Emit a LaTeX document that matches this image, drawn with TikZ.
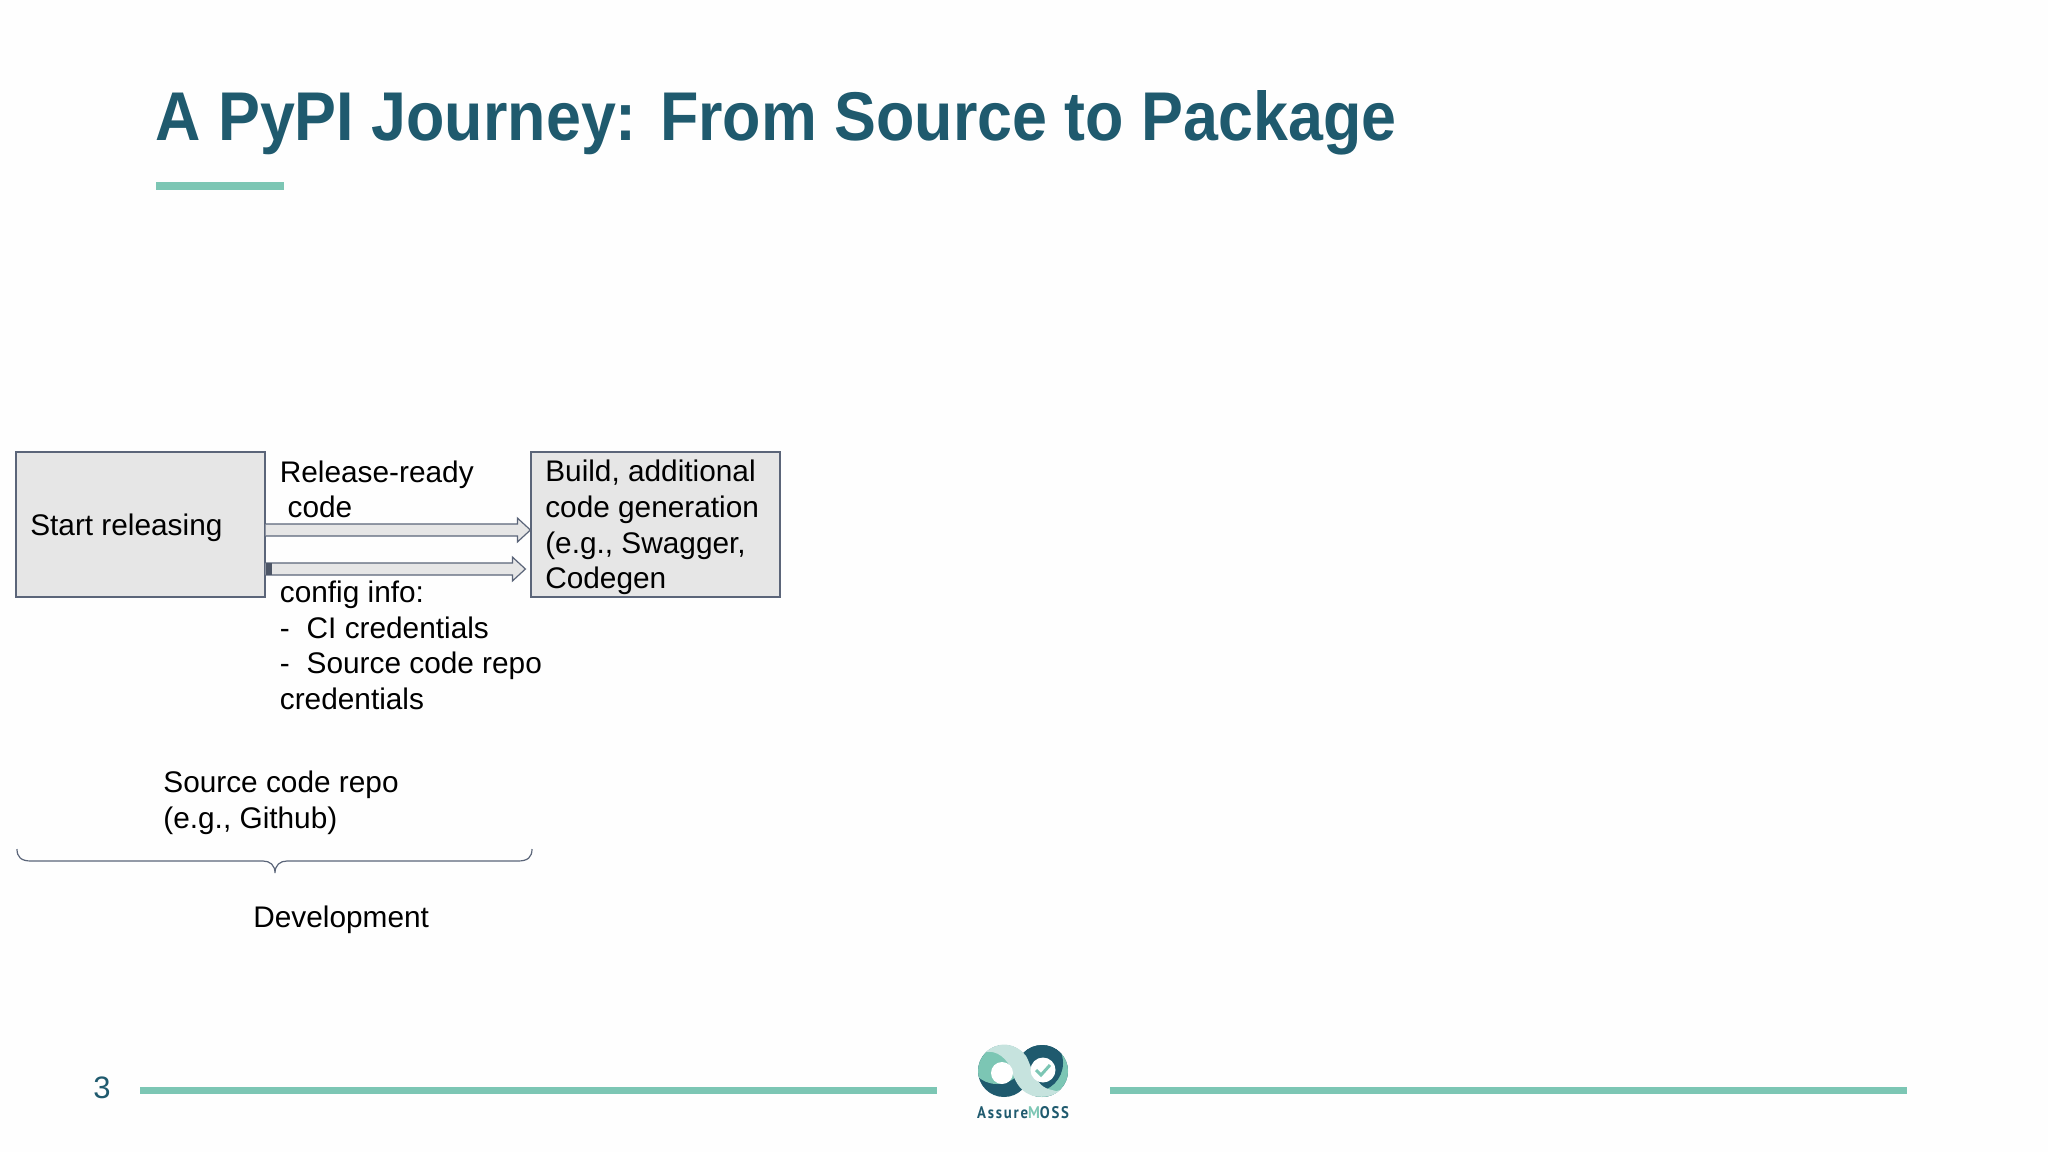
\documentclass[tikz,border=0pt]{standalone}
\usepackage{fontspec}
\usepackage{graphicx}
\setmainfont{Liberation Sans}
\newfontfamily\titlefont{Liberation Sans}
\newfontfamily\logofont[LetterSpace=12]{PT Sans}
\usetikzlibrary{calc}
\definecolor{inkdark}{HTML}{1F5A6E}
\definecolor{mint}{HTML}{7CC6B4}
\definecolor{palemint}{HTML}{C6E3DE}
\definecolor{edge}{HTML}{5B6579}
\definecolor{boxfill}{HTML}{E6E6E6}
\tikzset{
  x=0.5pt,y=-0.5pt,
  label text/.style={inner sep=0pt,anchor=west,align=left,text=black,font=\fontsize{14.9}{17.8}\selectfont},
  box/.style={draw=edge,fill=boxfill,line width=0.6pt,minimum height=72.5pt,minimum width=124.5pt,inner sep=0pt},
  hollow/.style={draw=edge,fill=boxfill,line width=0.6pt,line join=miter},
  rule/.style={fill=mint,draw=none},
}
\begin{document}
\begin{tikzpicture}
\useasboundingbox (0,0) rectangle (2048,1152);
\fill[white!99.5!black] (0,0) rectangle (2048,1152);
% title
\node[anchor=base west,inner sep=0pt,text=inkdark,font=\titlefont\bfseries\fontsize{36}{40}\selectfont] (title) at (155,140) {\resizebox{620.5pt}{25pt}{A PyPI Journey: From Source to Package}};
\fill[rule] (156,182) rectangle (284,190);
% boxes
\node[box] (start) at (140.5,524.5) {};
\node[box] (build) at (655.5,524.5) {};
\node[label text] (starttext) at ([xshift=7.25pt,yshift=-1.5pt]start.west) {Start releasing};
\node[label text] (buildtext) at ([xshift=7.25pt,yshift=-1.5pt]build.west) {Build, additional\\code generation\\(e.g., Swagger,\\Codegen};
% arrows
\coordinate (a1) at (start.east |- 0,530);
\coordinate (b1) at (build.west |- 0,530);
\coordinate (a2) at (start.east |- 0,569);
\coordinate (b2) at ($(build.west |- 0,569)+(-5,0)$);
\draw[hollow] (a1)+(0,-6) -- ($(b1)+(-13,-6)$) -- ($(b1)+(-13,-12)$) -- (b1) -- ($(b1)+(-13,12)$) -- ($(b1)+(-13,6)$) -- ($(a1)+(0,6)$);
\draw[hollow] (a2)+(0,-6) -- ($(b2)+(-13,-6)$) -- ($(b2)+(-13,-12)$) -- (b2) -- ($(b2)+(-13,12)$) -- ($(b2)+(-13,6)$) -- ($(a2)+(0,6)$);
\fill[edge!85!black] ($(a2)+(0,-6)$) rectangle ($(a2)+(6,6)$);
% labels
\node[label text] (lrel) at (279.5,489.5) {Release-ready\\\hspace{3.9pt}code};
\node[label text] (lcfg) at (279.5,645.5) {config info:\\\makebox[13.4pt][l]{-}CI credentials\\\makebox[13.4pt][l]{-}Source code repo\\credentials};
\node[label text] (lrepo) at (163,802.5) {Source code repo\\(e.g., Github)};
\node[label text] (ldev) at (253,920) {Development};
% brace
\coordinate (bl) at (17,849);
\coordinate (br) at (532,849);
\coordinate (bm) at (275,873);
\draw[edge,line width=0.6pt] (bl) .. controls ($(bl)+(0,8)$) and ($(bl)+(4,12)$) .. ($(bl)+(14,12)$) -- ($(bm)+(-12,-12)$) .. controls ($(bm)+(-5,-12)$) and ($(bm)+(0,-8)$) .. (bm) .. controls ($(bm)+(0,-8)$) and ($(bm)+(5,-12)$) .. ($(bm)+(12,-12)$) -- ($(br)+(-14,12)$) .. controls ($(br)+(-4,12)$) and ($(br)+(0,8)$) .. (br);
% footer
\node[anchor=center,inner sep=0pt,text=inkdark,font=\fontsize{15.5}{18}\selectfont] (pageno) at (102,1088) {3};
\fill[rule] (140,1087) rectangle (937,1094);
\fill[rule] (1110,1087) rectangle (1907,1094);
% logo
\fill[inkdark] (1004,1071) circle[radius=26];
\begin{scope}
\clip (1004,1071) circle[radius=26];
\fill[mint] (997,1055) circle[radius=29];
\end{scope}
\fill[inkdark] (1042,1071) circle[radius=26];
\begin{scope}
\clip (1042,1071) circle[radius=26];
\fill[mint] (1060,1085) circle[radius=32];
\fill[inkdark] (1034,1063) circle[radius=29];
\end{scope}
\fill[palemint] (986,1052) .. controls (998,1041) and (1015,1042) .. (1026,1056) .. controls (1032,1066) and (1034,1087) .. (1052,1090) .. controls (1055,1091) and (1058,1092) .. (1060,1090) .. controls (1054,1096) and (1044,1098) .. (1034,1096) .. controls (1022,1093) and (1016,1084) .. (1012,1072) .. controls (1008,1058) and (996,1050) .. (986,1052) -- cycle;
\fill[white] (1002,1073) circle[radius=11];
\fill[white] (1043,1070) circle[radius=12.5];
\draw[mint,line width=1.5pt] (1036,1070) -- (1041,1075) -- (1050,1065);
\node[inner sep=0pt,anchor=center,font=\logofont\bfseries\fontsize{8.4}{10}\selectfont] (logotext) at (1023,1113) {\scalebox{0.88}[1]{\textcolor{inkdark}{Assure}\textcolor{mint}{M}\textcolor{inkdark}{OSS}}};
\end{tikzpicture}
\end{document}
